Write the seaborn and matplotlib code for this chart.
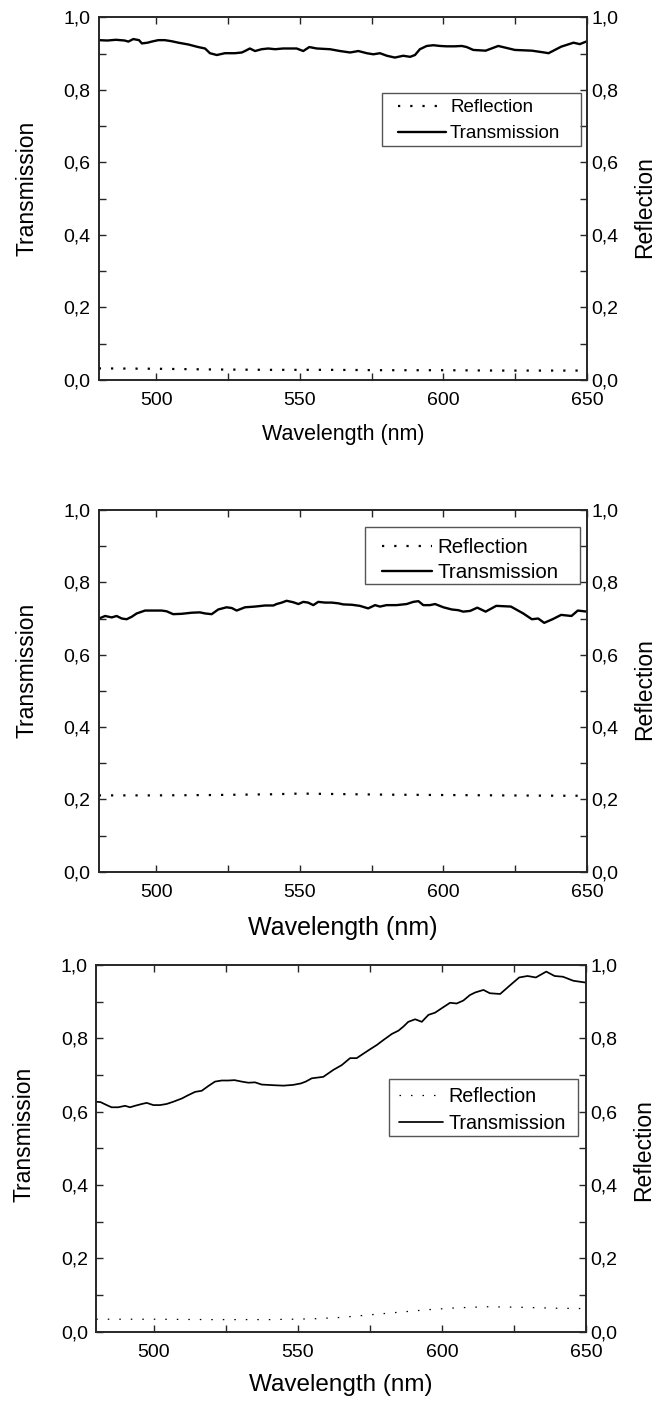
import numpy as np
import pandas as pd
import matplotlib
matplotlib.use("Agg")
import matplotlib.pyplot as plt
import seaborn as sns
from matplotlib.patches import Rectangle
from matplotlib.ticker import FixedLocator, FixedFormatter

# ---------------- data ----------------
x_ticks = [500, 550, 600, 650]
x_tick_labels = ["500", "550", "600", "650"]
x_minor = [525, 575, 625]
y_ticks = [0.0, 0.2, 0.4, 0.6, 0.8, 1.0]
y_tick_labels = ["0,0", "0,2", "0,4", "0,6", "0,8", "1,0"]
y_minor = [0.1, 0.3, 0.5, 0.7, 0.9]
series_names = ["Reflection", "Transmission"]

wl_t1 = [480, 483, 486, 489, 490.3, 492, 494, 495, 497, 498.4,
         500.7, 503, 505.4, 507.7, 511.2, 514.6, 517, 518.7, 521.1, 523.9,
         527.4, 529.8, 530.9, 532.6, 534.4, 536.7, 539, 541.4, 544.2, 548.9,
         551.2, 553.3, 555.9, 560.5, 564, 567.5, 570.4, 573.3, 575.6, 577.9,
         580.3, 583.1, 586, 588.4, 590.1, 591.8, 594.2, 596.5, 598.8, 601.1,
         604, 606.4, 608.1, 610.4, 614.7, 619.1, 624.9, 630.8, 635.1, 636.6,
         641, 645.3, 647.5, 650]
trans1 = [0.937, 0.936, 0.938, 0.936, 0.933, 0.940, 0.937, 0.928, 0.930, 0.933,
          0.937, 0.937, 0.934, 0.930, 0.925, 0.918, 0.914, 0.901, 0.896, 0.901,
          0.901, 0.903, 0.907, 0.914, 0.907, 0.912, 0.914, 0.912, 0.914, 0.914,
          0.907, 0.918, 0.914, 0.912, 0.907, 0.903, 0.907, 0.901, 0.898, 0.901,
          0.894, 0.889, 0.894, 0.891, 0.896, 0.912, 0.921, 0.923, 0.921, 0.920,
          0.920, 0.921, 0.918, 0.910, 0.908, 0.921, 0.910, 0.908, 0.903, 0.901,
          0.919, 0.930, 0.926, 0.934]
wl_r1 = [480, 500, 520, 540, 560, 580, 600, 620, 650]
refl1 = [0.032, 0.031, 0.029, 0.028, 0.028, 0.027, 0.027, 0.026, 0.026]

wl_t2 = [480.1, 482.2, 484.5, 486.2, 488.0, 489.7, 491.5, 493.2, 496.1, 498.4,
         501.9, 503.6, 505.9, 508.9, 512.3, 515.2, 517.0, 519.3, 521.6, 524.5,
         526.3, 528.0, 530.9, 534.4, 537.9, 540.8, 541.9, 543.7, 545.4, 547.7,
         549.5, 551.2, 552.9, 554.7, 556.4, 558.8, 561.1, 563.4, 565.1, 568.1,
         570.9, 573.8, 576.2, 577.9, 580.2, 583.7, 587.2, 589.5, 591.3, 593.0,
         595.3, 597.1, 600.0, 602.9, 605.2, 606.9, 609.3, 611.8, 614.7, 618.4,
         623.5, 627.8, 630.8, 633.0, 635.1, 638.0, 641.0, 644.6, 646.8, 650.0]
trans2 = [0.700, 0.707, 0.703, 0.707, 0.700, 0.698, 0.705, 0.714, 0.722, 0.722,
          0.722, 0.720, 0.712, 0.713, 0.716, 0.717, 0.714, 0.712, 0.725, 0.731,
          0.729, 0.722, 0.731, 0.733, 0.736, 0.736, 0.740, 0.744, 0.749, 0.745,
          0.740, 0.746, 0.744, 0.737, 0.746, 0.744, 0.744, 0.742, 0.739, 0.738,
          0.735, 0.728, 0.737, 0.733, 0.737, 0.737, 0.740, 0.746, 0.748, 0.737,
          0.737, 0.740, 0.731, 0.725, 0.723, 0.719, 0.721, 0.730, 0.719, 0.735,
          0.733, 0.714, 0.698, 0.700, 0.688, 0.698, 0.710, 0.707, 0.722, 0.719]
wl_r2 = [480, 500, 520, 540, 550, 560, 580, 600, 620, 640, 650]
refl2 = [0.211, 0.211, 0.212, 0.214, 0.216, 0.215, 0.213, 0.212, 0.211, 0.210, 0.210]

wl_t3 = [480.1, 481.5, 483.6, 485.3, 487.6, 490.0, 491.7, 493.4, 495.8, 497.5,
         499.8, 502.1, 504.4, 506.7, 509.7, 511.9, 514.3, 516.6, 518.9, 521.2,
         523.5, 525.8, 528.0, 530.5, 532.8, 535.1, 537.4, 539.7, 542.0, 545.0,
         548.3, 551.0, 552.7, 554.8, 558.8, 562.3, 565.2, 568.1, 570.4, 572.1,
         575.0, 577.4, 579.6, 582.6, 584.9, 586.6, 588.3, 590.7, 593.0, 595.3,
         597.6, 599.9, 602.8, 605.1, 607.4, 609.7, 611.5, 614.4, 616.6, 620.2,
         623.1, 626.8, 629.7, 632.6, 636.2, 639.1, 642.0, 645.6, 650.0]
trans3 = [0.627, 0.626, 0.618, 0.612, 0.612, 0.616, 0.612, 0.616, 0.621, 0.624,
          0.618, 0.618, 0.621, 0.627, 0.636, 0.645, 0.654, 0.657, 0.670, 0.682,
          0.685, 0.685, 0.686, 0.682, 0.679, 0.680, 0.674, 0.673, 0.672, 0.671,
          0.673, 0.677, 0.682, 0.691, 0.695, 0.714, 0.727, 0.746, 0.746, 0.755,
          0.770, 0.782, 0.795, 0.812, 0.821, 0.832, 0.845, 0.852, 0.845, 0.864,
          0.870, 0.882, 0.897, 0.895, 0.903, 0.918, 0.925, 0.932, 0.923, 0.921,
          0.941, 0.966, 0.970, 0.966, 0.982, 0.970, 0.968, 0.957, 0.952]
wl_r3 = [480, 500, 520, 540, 555, 565, 575, 585, 595, 605, 615, 625, 640, 650]
refl3 = [0.034, 0.034, 0.033, 0.033, 0.035, 0.039, 0.046, 0.053, 0.060, 0.065,
         0.068, 0.067, 0.064, 0.063]

# ---------------- style ----------------
sns.set_theme(style="ticks")
plt.rcParams["font.family"] = ["Liberation Sans", "DejaVu Sans"]
plt.rcParams["axes.facecolor"] = "white"
plt.rcParams["figure.facecolor"] = "white"
for k in ["text.color", "axes.labelcolor", "xtick.labelcolor", "ytick.labelcolor"]:
    plt.rcParams[k] = "black"

W, H = 657, 1401
fig = plt.figure(figsize=(W / 100, H / 100), dpi=100)

SPINE = "#262626"
TICKFS = 14

panels = [
    dict(rect=(98.8, 17.3, 587.0, 380.0), t=(wl_t1, trans1), r=(wl_r1, refl1),
         t_lw=1.7, r_lw=1.6, r_dash=(0, (1, 4.5)), xfs=15.5,
         ylab_y=0.529, rlab_y=0.476, xlab_y=-0.121,
         leg=dict(fs=13.5, hl=2.6, htp=0.19, ls=0.48, anchor=(0.9455, 0.7747),
                  pads=(15.6, 20.6, 6.3, 3.4))),
    dict(rect=(98.8, 510.0, 587.0, 871.7), t=(wl_t2, trans2), r=(wl_r2, refl2),
         t_lw=1.7, r_lw=1.6, r_dash=(0, (1, 4.5)), xfs=18,
         ylab_y=0.557, rlab_y=0.505, xlab_y=-0.1225,
         leg=dict(fs=14.8, hl=2.43, htp=0.24, ls=0.28, anchor=(0.941, 0.9226),
                  pads=(16.7, 21.7, 10.7, 2.4))),
    dict(rect=(96.3, 965.0, 586.0, 1331.7), t=(wl_t3, trans3), r=(wl_r3, refl3),
         t_lw=1.25, r_lw=0.9, r_dash=(0, (1.2, 8)), xfs=17.5,
         ylab_y=0.539, rlab_y=0.495, xlab_y=-0.115,
         leg=dict(fs=14.2, hl=2.23, htp=0.3, ls=0.38, anchor=(0.959, 0.6665),
                  pads=(10.0, 12.0, 8.0, 3.6))),
]

legends = []
for p in panels:
    x0, y0, x1, y1 = p["rect"]
    ax = fig.add_axes([x0 / W, (H - y1) / H, (x1 - x0) / W, (y1 - y0) / H])

    df_r = pd.DataFrame({"wl": p["r"][0], "val": p["r"][1]})
    df_t = pd.DataFrame({"wl": p["t"][0], "val": p["t"][1]})
    sns.lineplot(data=df_r, x="wl", y="val", ax=ax, color="black", lw=p["r_lw"],
                 linestyle=p["r_dash"], label=series_names[0], estimator=None)
    sns.lineplot(data=df_t, x="wl", y="val", ax=ax, color="black", lw=p["t_lw"],
                 label=series_names[1], estimator=None)

    ax.set_xlim(480, 650)
    ax.set_ylim(0, 1)
    ax.xaxis.set_major_locator(FixedLocator(x_ticks))
    ax.xaxis.set_major_formatter(FixedFormatter(x_tick_labels))
    ax.xaxis.set_minor_locator(FixedLocator(x_minor))
    ax.yaxis.set_major_locator(FixedLocator(y_ticks))
    ax.yaxis.set_major_formatter(FixedFormatter(y_tick_labels))
    ax.yaxis.set_minor_locator(FixedLocator(y_minor))

    ax.tick_params(axis="x", which="both", direction="in", top=True, bottom=True,
                   length=5, width=1, color=SPINE, pad=8.5, labelsize=TICKFS,
                   labelcolor="black")
    ax.tick_params(axis="y", which="both", direction="in", left=True, right=False,
                   length=5, width=1, color=SPINE, pad=6.0, labelsize=TICKFS,
                   labelcolor="black")
    for s in ax.spines.values():
        s.set_color(SPINE)
        s.set_linewidth(1.2)

    ax.set_xlabel("Wavelength (nm)", fontsize=p["xfs"], color="black")
    ax.xaxis.set_label_coords(0.5, p["xlab_y"])
    ax.set_ylabel("Transmission", fontsize=16.5, color="black")
    ax.yaxis.set_label_coords(-0.124, p["ylab_y"])

    ax2 = ax.twinx()
    ax2.set_ylim(0, 1)
    ax2.yaxis.set_major_locator(FixedLocator(y_ticks))
    ax2.yaxis.set_major_formatter(FixedFormatter(y_tick_labels))
    ax2.yaxis.set_minor_locator(FixedLocator(y_minor))
    ax2.tick_params(axis="y", which="both", direction="in", right=True, left=False,
                    length=5, width=1, color=SPINE, pad=2.9, labelsize=TICKFS,
                    labelcolor="black")
    for s in ax2.spines.values():
        s.set_color(SPINE)
        s.set_linewidth(1.2)
    ax2.set_ylabel("Reflection", fontsize=16.5, color="black")
    ax2.yaxis.set_label_coords(1.095, p["rlab_y"])

    lg = p["leg"]
    handles, labels = ax.get_legend_handles_labels()
    leg = ax.legend(handles, labels, loc="upper right", bbox_to_anchor=lg["anchor"],
                    frameon=False, fontsize=lg["fs"], handlelength=lg["hl"],
                    handletextpad=lg["htp"], labelspacing=lg["ls"], borderpad=0,
                    borderaxespad=0, labelcolor="black")
    legends.append((leg, lg["pads"]))

# draw legend frames with Origin-like asymmetric padding
fig.canvas.draw()
renderer = fig.canvas.get_renderer()
for leg, (L, R, T, B) in legends:
    bb = leg.get_window_extent(renderer)
    rx0, ry0 = bb.x0 - L, bb.y0 - B
    rw, rh = bb.width + L + R, bb.height + T + B
    fig.add_artist(Rectangle((rx0 / W, ry0 / H), rw / W, rh / H,
                             transform=fig.transFigure, fill=False,
                             edgecolor="#555555", lw=1.0))

fig.savefig("out.png", dpi=100)
